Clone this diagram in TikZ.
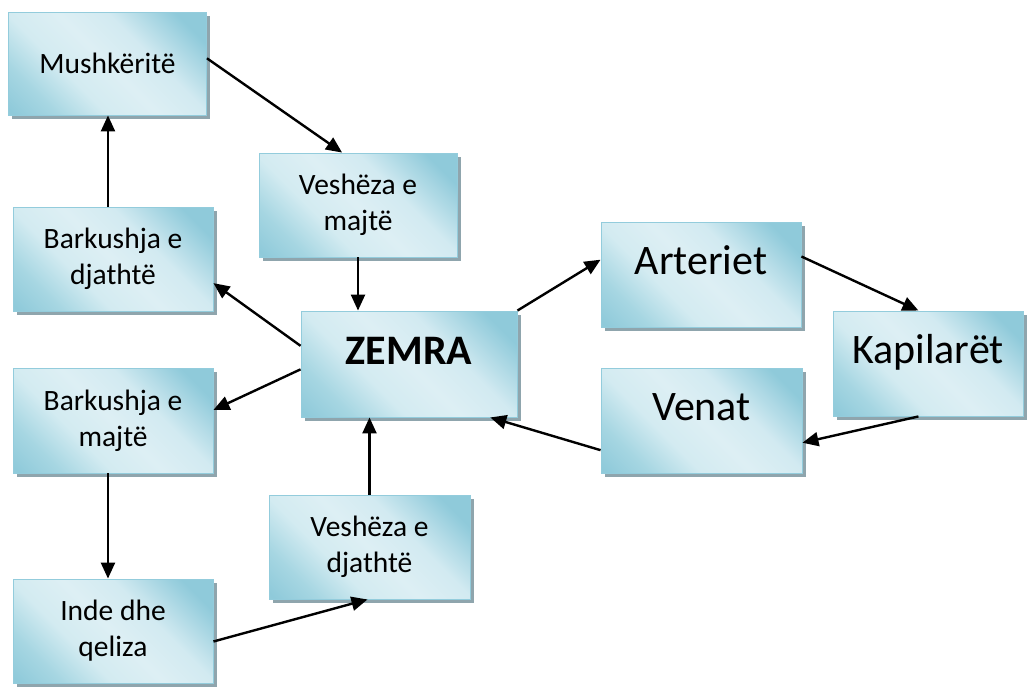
\documentclass[tikz,border=0pt]{standalone}
\usepackage{fontspec}
\setmainfont{Carlito}
\usetikzlibrary{arrows.meta,shadows,calc}
\definecolor{sA}{HTML}{8FCADA}
\definecolor{sB}{HTML}{D2EAF1}
\definecolor{sC}{HTML}{DDEFF4}
\definecolor{sB2}{HTML}{D3EBF1}
\definecolor{sD}{HTML}{A6D6E2}
\definecolor{sE}{HTML}{A3D4E1}
\definecolor{bordc}{HTML}{93CCDC}
\definecolor{shc}{HTML}{8FA5AD}
\pgfdeclarehorizontalshading{boxshade}{100bp}{color(0bp)=(sA); color(22bp)=(sA); color(38bp)=(sB); color(50bp)=(sC); color(62bp)=(sB2); color(74bp)=(sD); color(84bp)=(sA); color(100bp)=(sE)}
\tikzset{
  box/.style={rectangle, draw=bordc, line width=0.9pt, shading=boxshade, shading angle=225,
    inner sep=0pt, align=center,
    drop shadow={shadow xshift=3.5pt, shadow yshift=-3.5pt, fill=shc, opacity=1}},
  smallbox/.style={box, font=\fontsize{29.5}{36}\selectfont},
  bigbox/.style={box, font=\fontsize{42}{50}\selectfont, text height=0pt, text depth=0pt},
  arr/.style={line width=2.4pt, -{Triangle[length=16pt,width=14pt]}}
}
\begin{document}
\begin{tikzpicture}[x=1pt,y=-1pt]
\useasboundingbox (0,0) rectangle (1029,686);

\node[smallbox, minimum width=198pt, minimum height=103pt] (mush) at (107.5,63.5) {Mushkëritë};
\node[smallbox, minimum width=198pt, minimum height=104pt] (vmaj) at (358,205) {Veshëza e\\majtë};
\node[smallbox, minimum width=200pt, minimum height=104pt] (bdj) at (113,259) {Barkushja e\\djathtë};
\node[smallbox, minimum width=200pt, minimum height=105pt] (bmaj) at (113,420.5) {Barkushja e\\majtë};
\node[smallbox, minimum width=200pt, minimum height=104pt] (inde) at (113,631) {Inde dhe\\qeliza};
\node[smallbox, minimum width=201pt, minimum height=104pt] (vdj) at (369.5,547) {Veshëza e\\djathtë};
\node[bigbox, minimum width=216pt, minimum height=106pt, font=\fontsize{42}{50}\selectfont\bfseries] (zemra) at (409,364) {ZEMRA};
\node[bigbox, minimum width=200pt, minimum height=105pt] (art) at (701,274.5) {Arteriet};
\node[bigbox, minimum width=201pt, minimum height=105pt] (venat) at (701.5,420.5) {Venat};
\node[bigbox, minimum width=190pt, minimum height=105pt] (kap) at (928,363.5) {Kapilarët};

\draw[arr] ($(mush.north east)!0.45!(mush.south east)$) -- ($(vmaj.north west)!0.42!(vmaj.north east)$);
\draw[arr] (vmaj.south) -- (vmaj.south |- zemra.north);
\draw[arr] ($(zemra.north west)!0.33!(zemra.south west)$) -- ($(bdj.north east)!0.73!(bdj.south east)$);
\draw[arr] ($(zemra.north west)!0.55!(zemra.south west)$) -- ($(bmaj.north east)!0.40!(bmaj.south east)$);
\coordinate (bdjtop) at ($(bdj.north west)!0.475!(bdj.north east)$);
\draw[arr] (bdjtop) -- (bdjtop |- mush.south);
\coordinate (bmajbot) at ($(bmaj.south west)!0.475!(bmaj.south east)$);
\draw[arr] (bmajbot) -- (bmajbot |- inde.north);
\draw[arr] ($(inde.north east)!0.6!(inde.south east)$) -- ($(vdj.south west)!0.49!(vdj.south east)$);
\draw[arr] (vdj.north) -- (vdj.north |- zemra.south);
\draw[arr] (zemra.north east) -- ($(art.north west)!0.36!(art.south west)$);
\draw[arr] ($(art.north east)!0.33!(art.south east)$) -- ($(kap.north west)!0.45!(kap.north east)$);
\draw[arr] ($(kap.south west)!0.45!(kap.south east)$) -- ($(venat.north east)!0.71!(venat.south east)$);
\draw[arr] ($(venat.north west)!0.78!(venat.south west)$) -- ($(zemra.south west)!0.875!(zemra.south east)$);
\end{tikzpicture}
\end{document}
